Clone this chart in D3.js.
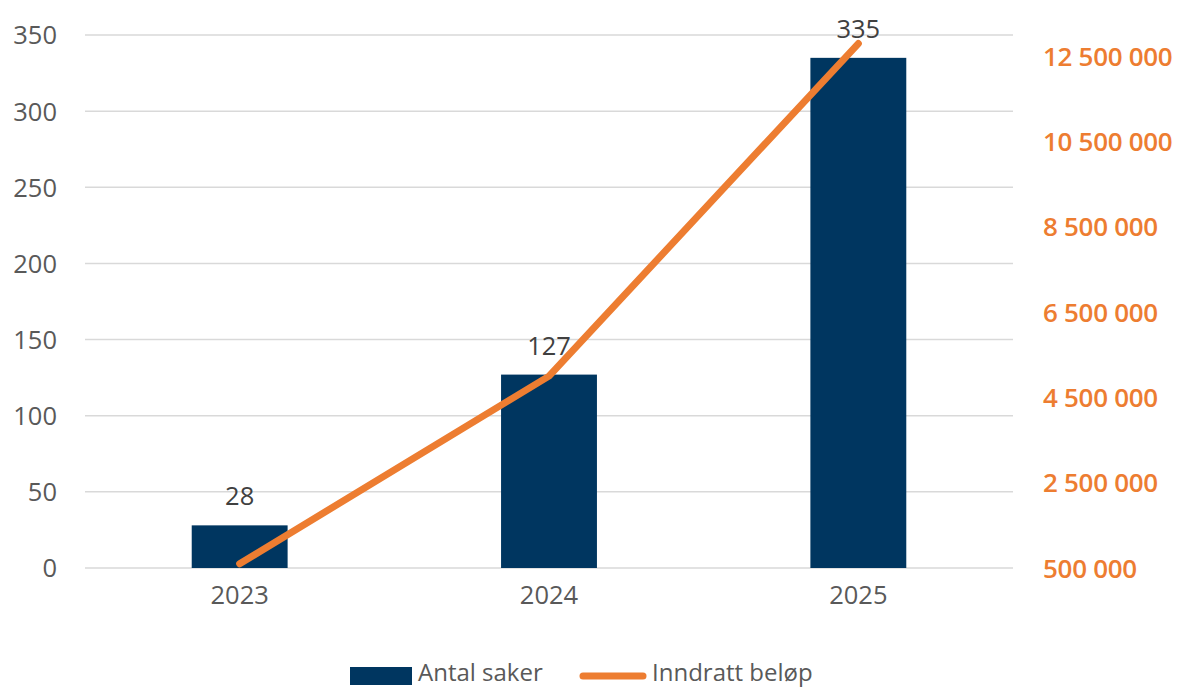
<!DOCTYPE html>
<html><head><meta charset="utf-8">
<script src="https://cdn.jsdelivr.net/npm/d3@7"></script>
<style>
html,body{margin:0;padding:0;background:#fff;overflow:hidden}
text{font-family:"Open Sans",sans-serif}
</style></head>
<body><svg id="c" width="1182" height="688"></svg>
<script>
const years = ["2023","2024","2025"];
const antalSaker = [28,127,335];
const inndrattBelop = [600000,5000000,12800000];
const leftTicks = [0,50,100,150,200,250,300,350];
const rightTicks = [500000,2500000,4500000,6500000,8500000,10500000,12500000];
const seriesNames = ["Antal saker","Inndratt beløp"];

const svg = d3.select("#c");
const L=85,R=1013,T=35,B=568;
const x = d3.scaleBand().domain(years).range([L,R]).padding(0);
const yL = d3.scaleLinear().domain([0,350]).range([B,T]);
const yR = d3.scaleLinear().domain([500000,13000000]).range([B,T]);
const navy="#003660", orange="#ED7D31", grid="#d9d9d9", txt="#595959";
const fmt = v => d3.format(",")(v).replace(/,/g," ");

// gridlines
svg.append("g").selectAll("line").data(leftTicks).join("line")
  .attr("x1",L).attr("x2",R).attr("y1",d=>yL(d)).attr("y2",d=>yL(d))
  .attr("stroke",grid).attr("stroke-width",1.5);

// left axis
const la = svg.append("g").attr("transform",`translate(${L},0)`)
  .call(d3.axisLeft(yL).tickValues(leftTicks).tickSize(0).tickPadding(28));
la.select(".domain").remove();
la.selectAll("text").attr("fill",txt).style("font-size","25.5px").attr("dy","0.35em");

// right axis
const ra = svg.append("g").attr("transform",`translate(${R},0)`)
  .call(d3.axisRight(yR).tickValues(rightTicks).tickFormat(fmt).tickSize(0).tickPadding(30));
ra.select(".domain").remove();
ra.selectAll("text").attr("fill",orange).style("font-size","26px").style("font-weight","600")
  .style("letter-spacing","-0.3px").attr("dy","0.35em");

// x axis labels
const xa = svg.append("g").attr("transform",`translate(0,${B})`)
  .call(d3.axisBottom(x).tickSize(0).tickPadding(27));
xa.select(".domain").remove();
xa.selectAll("text").attr("fill",txt).style("font-size","25.5px").attr("dy","0.35em");

// bars
const bw = x.bandwidth()*0.31;
svg.append("g").selectAll("rect").data(antalSaker).join("rect")
  .attr("x",(d,i)=>x(years[i])+x.bandwidth()/2-bw/2)
  .attr("width",bw)
  .attr("y",d=>yL(d)).attr("height",d=>B-yL(d))
  .attr("fill",navy);

// line
const line = d3.line().x((d,i)=>x(years[i])+x.bandwidth()/2).y(d=>yR(d));
svg.append("path").datum(inndrattBelop).attr("d",line)
  .attr("fill","none").attr("stroke",orange).attr("stroke-width",7)
  .attr("stroke-linecap","round").attr("stroke-linejoin","round");

// data labels
svg.append("g").selectAll("text").data(antalSaker).join("text")
  .attr("x",(d,i)=>x(years[i])+x.bandwidth()/2)
  .attr("y",d=>yL(d)-20)
  .attr("text-anchor","middle").attr("fill","#404040")
  .style("font-size","25.5px").text(d=>d);

// legend
const lg = svg.append("g");
lg.append("rect").attr("x",350).attr("y",667).attr("width",62).attr("height",18).attr("fill",navy);
lg.append("text").attr("x",418).attr("y",681).attr("fill",txt).style("font-size","24px").text(seriesNames[0]);
lg.append("line").attr("x1",583).attr("x2",643).attr("y1",676).attr("y2",676)
  .attr("stroke",orange).attr("stroke-width",7).attr("stroke-linecap","round");
lg.append("text").attr("x",652).attr("y",681).attr("fill",txt).style("font-size","24px").text(seriesNames[1]);
</script></body></html>
